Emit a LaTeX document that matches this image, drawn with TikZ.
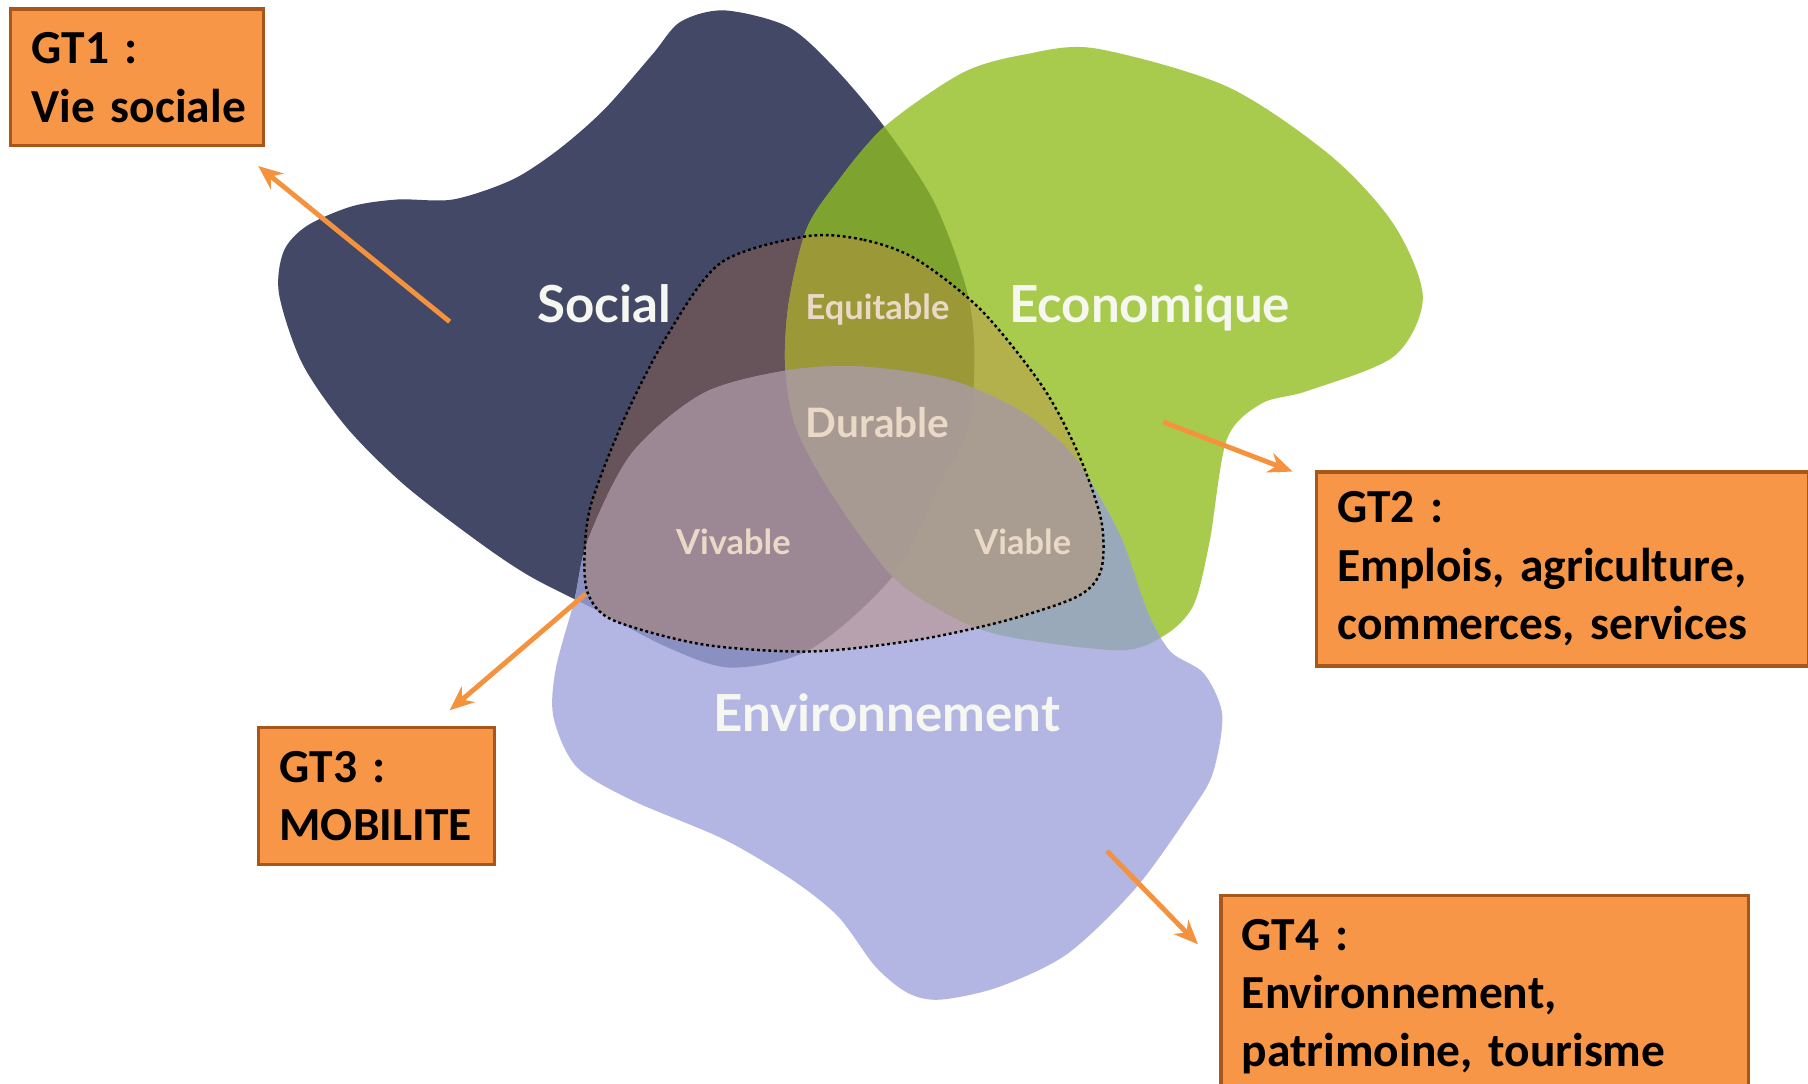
\documentclass[tikz,border=0pt]{standalone}
\usepackage{fontspec}
\setmainfont{Carlito}
\newfontfamily\latofont{Lato}
\usetikzlibrary{arrows.meta}

%%%%%%%%%%%%%%%%%%%%%%%% Couleurs %%%%%%%%%%%%%%%%%%%%%%%%
\definecolor{bleuSocial}{HTML}{434866}
\definecolor{vertEco}{HTML}{A8CB4D}
\definecolor{lavandeEnv}{HTML}{B3B5E2}
\definecolor{socEco}{HTML}{7FA32F}
\definecolor{socEnv}{HTML}{8B90C3}
\definecolor{ecoEnv}{HTML}{9AA9B9}
\definecolor{triSoc}{HTML}{66545A}
\definecolor{triEco}{HTML}{B3B14C}
\definecolor{triEnv}{HTML}{B8A1AF}
\definecolor{triSocEco}{HTML}{9A9837}
\definecolor{triSocEnv}{HTML}{9B8894}
\definecolor{triEcoEnv}{HTML}{A89D90}
\definecolor{triTout}{HTML}{A69A92}
\definecolor{orangeGT}{HTML}{F79646}
\definecolor{bordureGT}{HTML}{A9561B}
\definecolor{orangeFleche}{HTML}{F5923E}
\definecolor{blancTitre}{HTML}{F5F7F0}
\definecolor{beigeTexte}{HTML}{EAD9C6}

%%%%%%%%%%%%%%%%%%%%%%%% Contours des trois domaines %%%%%%%%%%%%%%%%%%%%%%%%
\newcommand{\formeSocial}{plot[smooth cycle] coordinates {(628,9) (683,23) (723,58) (767,110) (810,175) (838,250) (845,305) (840,370) (814,422) (774,500) (703,563) (634,579) (578,561) (517,529) (460,500) (415,470) (350,420) (300,370) (262,315) (242,255) (246,218) (266,196) (305,179) (345,173) (393,173) (444,156) (484,130) (524,95) (566,47) (590,19)}}
\newcommand{\formeEco}{plot[smooth cycle] coordinates {(950,42) (1064,75) (1154,135) (1209,195) (1234,258) (1209,309) (1134,339) (1094,350) (1064,381) (1049,470) (1035,525) (1010,551) (971,564) (873,552) (826,535) (774,500) (721,428) (690,370) (681,318) (684,263) (699,200) (723,162) (767,110) (835,63) (890,47)}}
\newcommand{\formeEnv}{plot[smooth cycle] coordinates {(510,468) (548,393) (610,341) (684,321) (749,318) (826,330) (888,358) (929,393) (952,428) (974,470) (995,530) (1015,565) (1044,584) (1060,620) (1052,670) (1034,702) (986,769) (926,827) (866,856) (815,867) (787,861) (759,838) (727,795) (687,763) (628,728) (548,694) (500,665) (480,622) (482,580) (498,521)}}
\newcommand{\formeTri}{plot[smooth cycle] coordinates {(699,205) (749,208) (795,225) (851,269) (904,335) (935,393) (955,451) (955,494) (935,517) (873,538) (795,555) (703,565) (610,559) (532,538) (510,515) (507,480) (513,436) (541,364) (578,292) (625,228)}}

\begin{document}
\begin{tikzpicture}[x=0.01cm, y=-0.01cm,
    boite/.style={draw=bordureGT, fill=orangeGT, line width=0.8pt, anchor=north west, align=left,
      inner xsep=0.18cm, inner ysep=0pt, font=\fontsize{11.7}{14.4}\selectfont\bfseries},
    titre/.style={anchor=base, text=blancTitre, font=\latofont\bfseries\fontsize{12.6}{15}\selectfont},
    sousTitre/.style={anchor=base, text=beigeTexte, font=\latofont\bfseries\fontsize{8.5}{10}\selectfont},
    fleche/.style={draw=orangeFleche, line width=1.2pt, -{Stealth[length=6pt, width=5pt]}},
    pointille/.style={draw=black, line width=0.6pt, dash pattern=on 0.7pt off 0.7pt}]
  \path[use as bounding box, fill=white] (0,0) rectangle (1568,940);
  %%%%%%%%%%%%%%%%%%%%%%%% Domaines %%%%%%%%%%%%%%%%%%%%%%%%
  \fill[bleuSocial] \formeSocial;
  \fill[vertEco] \formeEco;
  \fill[lavandeEnv] \formeEnv;
  \begin{scope} % recouvrements hors triangle
    \clip \formeSocial;
    \fill[socEco] \formeEco;
    \fill[socEnv] \formeEnv;
  \end{scope}
  \begin{scope}
    \clip \formeEco;
    \fill[ecoEnv] \formeEnv;
  \end{scope}
  %%%%%%%%%%%%%%%%%%%%%%%% Triangle central %%%%%%%%%%%%%%%%%%%%%%%%
  \begin{scope}
    \clip \formeTri;
    \fill[triSoc] \formeSocial;
    \fill[triEco] \formeEco;
    \fill[triEnv] \formeEnv;
    \begin{scope}
      \clip \formeSocial;
      \fill[triSocEco] \formeEco;
      \fill[triSocEnv] \formeEnv;
    \end{scope}
    \begin{scope}
      \clip \formeEco;
      \fill[triEcoEnv] \formeEnv;
      \clip \formeSocial;
      \fill[triTout] \formeEnv; % les trois
    \end{scope}
  \end{scope}
  \draw[pointille] \formeTri;
  %%%%%%%%%%%%%%%%%%%%%%%% Libellés %%%%%%%%%%%%%%%%%%%%%%%%
  \node[titre] (social) at (524,280) {Social};
  \node[titre] (eco) at (997,280) {Economique};
  \node[titre] (env) at (769,634) {Environnement};
  \node[sousTitre] (equitable) at (761,277) {Equitable};
  \node[sousTitre, font=\latofont\bfseries\fontsize{10}{12}\selectfont] (durable) at (761,379) {Durable};
  \node[sousTitre] (vivable) at (636,481) {Vivable};
  \node[sousTitre] (viable) at (887,481) {Viable};
  %%%%%%%%%%%%%%%%%%%%%%%% Groupes de travail %%%%%%%%%%%%%%%%%%%%%%%%
  \node[boite, text width=1.83cm, minimum height=1.185cm] (gt1) at (8,6.5) {GT1 :\\\mbox{Vie sociale}};
  \node[boite, text width=3.90cm, minimum height=1.68cm] (gt2) at (1140.5,408) {GT2 :\\\mbox{Emplois, agriculture,}\\\mbox{commerces, services}};
  \node[boite, text width=1.685cm, minimum height=1.187cm] (gt3) at (223,629.6) {GT3 :\\\mbox{MOBILITE}};
  \node[boite, text width=4.214cm, minimum height=1.76cm] (gt4) at (1057.6,775) {GT4 :\\\mbox{Environnement,}\\\mbox{patrimoine, tourisme}};
  %%%%%%%%%%%%%%%%%%%%%%%% Flèches %%%%%%%%%%%%%%%%%%%%%%%%
  \coordinate (d1) at (390,279); \coordinate (f1) at (224,144);
  \coordinate (d2) at (1009,366); \coordinate (f2) at (1121,409);
  \coordinate (d3) at (508,515); \coordinate (f3) at (390,616);
  \coordinate (d4) at (960,738); \coordinate (f4) at (1039,819);
  \draw[fleche] (d1) -- (f1);
  \draw[fleche] (d2) -- (f2);
  \draw[fleche] (d3) -- (f3);
  \draw[fleche] (d4) -- (f4);
\end{tikzpicture}
\end{document}
